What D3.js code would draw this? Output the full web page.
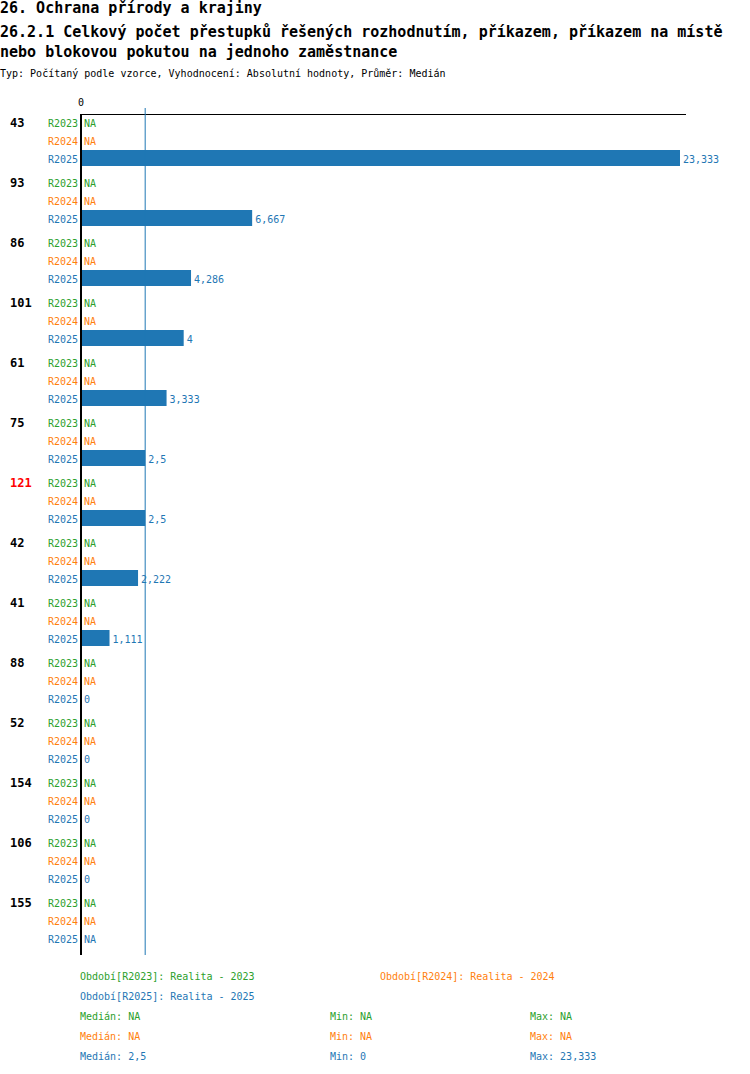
<!DOCTYPE html>
<html>
<head>
<meta charset="utf-8">
<script src="https://cdn.jsdelivr.net/npm/d3@7"></script>
<style>
  body { margin: 0; background: #fff; }
  text { font-family: "DejaVu Sans Mono", "Liberation Mono", monospace; }
</style>
</head>
<body>
<svg id="chart" width="750" height="1074"></svg>
<script>
// data
var categories = ["43", "93", "86", "101", "61", "75", "121", "42", "41", "88", "52", "154", "106", "155"];
var highlighted = ["121"];
var periods = ["R2023", "R2024", "R2025"];
var valuesR2023 = [null, null, null, null, null, null, null, null, null, null, null, null, null, null];
var valuesR2024 = [null, null, null, null, null, null, null, null, null, null, null, null, null, null];
var valuesR2025 = [23.333, 6.667, 4.286, 4, 3.333, 2.5, 2.5, 2.222, 1.111, 0, 0, 0, 0, null];
var periodNames = ["Realita - 2023", "Realita - 2024", "Realita - 2025"];
var medians = [null, null, 2.5];
var mins = [null, null, 0];
var maxs = [null, null, 23.333];
var colors = ["#2ca02c", "#ff7f0e", "#1f77b4"];

var series = [valuesR2023, valuesR2024, valuesR2025];

var svg = d3.select("#chart");

var fmt = function(v) {
    if (v === null || v === undefined) return "NA";
    return String(+v.toFixed(3)).replace(".", ",");
};

// titles
svg.append("text").attr("x", 0).attr("y", 13).attr("font-size", 15).attr("font-weight", "bold")
    .text("26. Ochrana přírody a krajiny");
svg.append("text").attr("x", 0).attr("y", 37).attr("font-size", 15).attr("font-weight", "bold")
    .text("26.2.1 Celkový počet přestupků řešených rozhodnutím, příkazem, příkazem na místě");
svg.append("text").attr("x", 0).attr("y", 57).attr("font-size", 15).attr("font-weight", "bold")
    .text("nebo blokovou pokutou na jednoho zaměstnance");
svg.append("text").attr("x", 0).attr("y", 77).attr("font-size", 10)
    .text("Typ: Počítaný podle vzorce, Vyhodnocení: Absolutní hodnoty, Průměr: Medián");

var x = d3.scaleLinear().domain([0, d3.max(valuesR2025)]).range([81, 680]);

var groupTop = 114, groupStep = 60, rowStep = 18;
var y = d3.scaleBand().domain(categories).range([groupTop, groupTop + groupStep * categories.length]);
var yRow = d3.scaleBand().domain(periods).range([0, rowStep * 3]);

// top axis
svg.append("line").attr("x1", 80).attr("x2", 686).attr("y1", 114.5).attr("y2", 114.5)
    .attr("stroke", "#000").attr("stroke-width", 1);
svg.append("text").attr("x", x(0)).attr("y", 106).attr("font-size", 10).attr("text-anchor", "middle").text("0");

var groups = svg.selectAll("g.grp").data(categories).enter().append("g")
    .attr("class", "grp")
    .attr("transform", function(d) { return "translate(0," + y(d) + ")"; });

groups.append("text")
    .attr("x", 10).attr("y", yRow("R2023") + 13)
    .attr("font-size", 12).attr("font-weight", "bold")
    .attr("fill", function(d) { return highlighted.indexOf(d) >= 0 ? "#ff0000" : "#000"; })
    .text(function(d) { return d; });

periods.forEach(function(p, pi) {
    groups.append("text")
        .attr("x", 78).attr("y", yRow(p) + 13)
        .attr("font-size", 10).attr("text-anchor", "end")
        .attr("fill", colors[pi])
        .text(p);

    groups.each(function(d, i) {
        var v = series[pi][i];
        var g = d3.select(this);
        if (v !== null && v > 0) {
            g.append("rect")
                .attr("x", x(0)).attr("y", yRow(p))
                .attr("width", x(v) - x(0)).attr("height", 16)
                .attr("fill", colors[pi]);
        }
        g.append("text")
            .attr("x", (v === null ? x(0) : x(v)) + 3).attr("y", yRow(p) + 13)
            .attr("font-size", 10).attr("fill", colors[pi])
            .text(fmt(v));
    });
});

// median line
svg.append("line").attr("x1", x(medians[2])).attr("x2", x(medians[2]))
    .attr("y1", 108).attr("y2", 955)
    .attr("stroke", colors[2]).attr("stroke-width", 1);

// zero axis
svg.append("line").attr("x1", x(0)).attr("x2", x(0)).attr("y1", 114).attr("y2", 955)
    .attr("stroke", "#000").attr("stroke-width", 2);

// legend
var legend = [
    {x: 80, y: 980, i: 0},
    {x: 380, y: 980, i: 1},
    {x: 80, y: 1000, i: 2}
];
legend.forEach(function(l) {
    svg.append("text").attr("x", l.x).attr("y", l.y).attr("font-size", 10).attr("fill", colors[l.i])
        .text("Období[" + periods[l.i] + "]: " + periodNames[l.i]);
});

periods.forEach(function(p, pi) {
    var yy = 1020 + pi * 20;
    svg.append("text").attr("x", 80).attr("y", yy).attr("font-size", 10).attr("fill", colors[pi])
        .text("Medián: " + fmt(medians[pi]));
    svg.append("text").attr("x", 330).attr("y", yy).attr("font-size", 10).attr("fill", colors[pi])
        .text("Min: " + fmt(mins[pi]));
    svg.append("text").attr("x", 530).attr("y", yy).attr("font-size", 10).attr("fill", colors[pi])
        .text("Max: " + fmt(maxs[pi]));
});
</script>
</body>
</html>
